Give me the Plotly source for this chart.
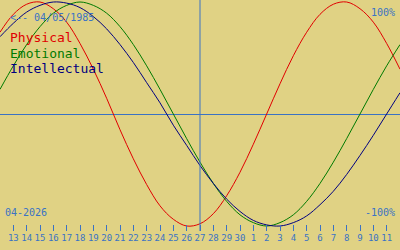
import plotly.graph_objects as go

# Day labels along the x axis (index 1..29), today = "27"
DAY_LABELS = ["13", "14", "15", "16", "17", "18", "19", "20", "21", "22", "23", "24",
              "25", "26", "27", "28", "29", "30", "1", "2", "3", "4", "5", "6", "7",
              "8", "9", "10", "11"]
TODAY_LABEL = "27"
MONTH_LABEL = "04-2026"
BIRTH_LABEL = "<-- 04/05/1985"

# Daily values (%) for day index 0..30 (12 Apr .. 12 May)
PHYSICAL = [73, 89, 98, 100, 94, 82, 63, 40, 14, -14, -40, -63, -82, -94, -100, -98,
            -89, -73, -52, -27, 0, 27, 52, 73, 89, 98, 100, 94, 82, 63, 40]
EMOTIONAL = [22, 43, 62, 78, 90, 97, 100, 97, 90, 78, 62, 43, 22, 0, -22, -43,
             -62, -78, -90, -97, -100, -97, -90, -78, -62, -43, -22, 0, 22, 43, 62]
INTELLECTUAL = [69, 81, 91, 97, 100, 99, 95, 87, 76, 62, 46, 28, 10, -10, -28, -46,
                -62, -76, -87, -95, -99, -100, -97, -91, -81, -69, -54, -37, -19, 0, 19]

BG = "#e0d284"
TXT = "#3a72c4"
RED = "#e00000"
GREEN = "#007a00"
NAVY = "#000080"
FONT = "DejaVu Sans Mono"

x_days = list(range(len(PHYSICAL)))
tick_vals = list(range(1, len(DAY_LABELS) + 1))
today_x = tick_vals[DAY_LABELS.index(TODAY_LABEL)]

fig = go.Figure()
for name, vals, col in [("Physical", PHYSICAL, RED),
                        ("Emotional", EMOTIONAL, GREEN),
                        ("Intellectual", INTELLECTUAL, NAVY)]:
    fig.add_trace(go.Scatter(x=x_days, y=vals, mode="lines", name=name,
                             line=dict(color=col, width=1, shape="spline", smoothing=1),
                             hoverinfo="skip"))

fig.add_vline(x=today_x, line=dict(color=TXT, width=1))

fig.update_layout(
    width=400, height=250,
    margin=dict(l=0, r=0, t=0, b=19),
    paper_bgcolor=BG, plot_bgcolor=BG,
    showlegend=False,
    xaxis=dict(range=[0, len(x_days) - 1], showgrid=False, zeroline=False, showline=False,
               tickmode="array", tickvals=tick_vals, ticktext=DAY_LABELS,
               ticks="inside", ticklen=6, tickwidth=1, tickcolor=TXT, tickangle=0,
               tickfont=dict(family=FONT, size=9, color=TXT), fixedrange=True),
    yaxis=dict(range=[-104.46, 101.79], showgrid=False, showticklabels=False, ticks="",
               zeroline=True, zerolinecolor=TXT, zerolinewidth=1, showline=False,
               fixedrange=True),
)

def note(text, x, y, size, color, xanchor="left"):
    fig.add_annotation(text=text, xref="paper", yref="paper",
                       x=x / 400, y=1 - y / 231, xanchor=xanchor, yanchor="middle",
                       showarrow=False, borderpad=0,
                       font=dict(family=FONT, size=size, color=color))

note(BIRTH_LABEL, 9, 17, 10, TXT)
note("Physical", 9, 38, 13, RED)
note("Emotional", 9, 53, 13, GREEN)
note("Intellectual", 9, 68, 13, NAVY)
note("100%", 396, 12, 10, TXT, "right")
note("-100%", 396, 212, 10, TXT, "right")
note(MONTH_LABEL, 4, 212, 10, TXT)

fig.write_html("out.html")
